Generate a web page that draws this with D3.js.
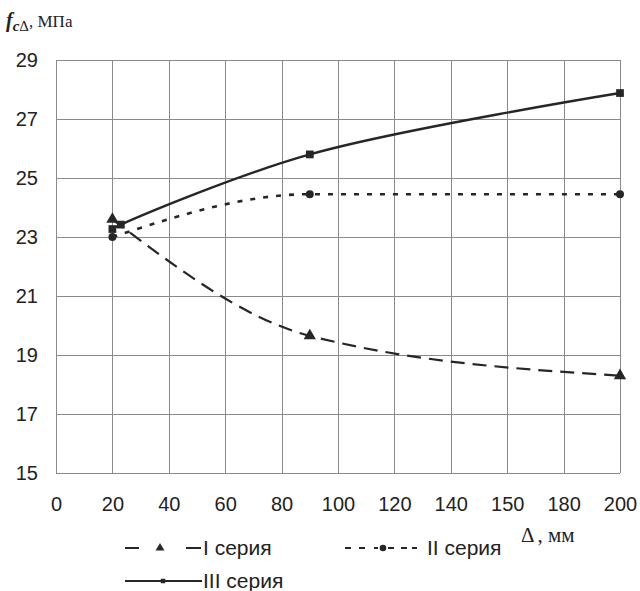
<!DOCTYPE html>
<html>
<head>
<meta charset="utf-8">
<script src="https://d3js.org/d3.v7.min.js"></script>
<style>
    body { margin: 0; background: #fff; }
    svg { display: block; font-family: "Liberation Sans", Arial, sans-serif; }
    .grid line { stroke: #8a8a8a; stroke-width: 1; shape-rendering: crispEdges; }
    .grid path { display: none; }
    .tick text { fill: #222; font-size: 20px; }
    .serif { font-family: "Liberation Serif", "Times New Roman", serif; fill: #222; }
    .legend text { font-size: 21px; fill: #222; }
</style>
</head>
<body>
<svg id="chart" width="640" height="591"></svg>
<script>
    // ticks
    var xTicks = [0, 20, 40, 60, 80, 100, 120, 140, 160, 180, 200];
    var xTickLabels = ["0", "20", "40", "60", "80", "100", "120", "140", "150", "180", "200"];
    var yTicks = [15, 17, 19, 21, 23, 25, 27, 29];

    // series
    var seriesNames = ["I серия", "II серия", "III серия"];
    var series1 = [{x: 20, y: 23.6}, {x: 90, y: 19.65}, {x: 200, y: 18.3}];
    var series2 = [{x: 20, y: 23.0}, {x: 90, y: 24.45}, {x: 200, y: 24.45}];
    var series3 = [{x: 20, y: 23.27}, {x: 23, y: 23.42}, {x: 90, y: 25.8}, {x: 200, y: 27.88}];

    var margin = {top: 60, left: 56},
        width = 564,
        height = 413;

    var svg = d3.select("#chart");
    var g = svg.append("g").attr("transform", "translate(" + margin.left + "," + margin.top + ")");

    var x = d3.scaleLinear().domain([0, 200]).range([0, width]);
    var y = d3.scaleLinear().domain([15, 29]).range([height, 0]);

    // horizontal grid + y labels
    var yAxis = d3.axisLeft(y).tickValues(yTicks).tickSize(-width - 6).tickPadding(13)
        .tickFormat(d3.format("d"));
    g.append("g").attr("class", "grid")
        .attr("transform", "translate(-6,0)")
        .call(yAxis)
        .selectAll("line").attr("x1", 6).attr("x2", width + 6);
    g.selectAll(".grid .tick text").attr("x", -12);

    // vertical grid + x labels
    var xAxis = d3.axisBottom(x).tickValues(xTicks).tickSize(-height).tickPadding(24)
        .tickFormat(function(d, i) { return xTickLabels[i]; });
    g.append("g").attr("class", "grid")
        .attr("transform", "translate(0," + height + ")")
        .call(xAxis);

    // axis titles
    var yt = svg.append("text").attr("class", "serif").attr("x", 6).attr("y", 27).style("font-size", "17px");
    yt.append("tspan").text("f").style("font-weight", "bold").style("font-style", "italic").style("font-size", "20px");
    yt.append("tspan").text("c").attr("dy", 4).style("font-weight", "bold").style("font-style", "italic").style("font-size", "15px");
    yt.append("tspan").text("Δ").style("font-size", "15px");
    yt.append("tspan").text(", МПа").attr("dy", -4);

    var xt = svg.append("text").attr("class", "serif").attr("x", 521).attr("y", 542).style("font-size", "21px");
    xt.append("tspan").text("Δ");
    xt.append("tspan").attr("dx", 3).text(", мм");

    // lines
    var ink = "#262626";
    var styles = [
        {data: series1, dash: "14,8", width: 2.2, marker: "triangle", curve: d3.curveMonotoneX},
        {data: series2, dash: "5,8", width: 2.6, marker: "circle", curve: d3.curveMonotoneX},
        {data: series3, dash: null, width: 2.4, marker: "square", curve: d3.curveCatmullRom.alpha(0.5)}
    ];

    styles.forEach(function(s) {
        var line = d3.line()
            .x(function(d) { return x(d.x); })
            .y(function(d) { return y(d.y); })
            .curve(s.curve);
        g.append("path")
            .datum(s.data)
            .attr("fill", "none")
            .attr("stroke", ink)
            .attr("stroke-width", s.width)
            .attr("stroke-dasharray", s.dash)
            .attr("d", line);
    });

    var symbolType = {triangle: d3.symbolTriangle, circle: d3.symbolCircle, square: d3.symbolSquare};
    var symbolSize = {triangle: 65, circle: 50, square: 60};

    styles.forEach(function(s) {
        g.selectAll(null)
            .data(s.data)
            .enter().append("path")
            .attr("transform", function(d) { return "translate(" + x(d.x) + "," + y(d.y) + ")"; })
            .attr("d", d3.symbol().type(symbolType[s.marker]).size(symbolSize[s.marker]))
            .attr("fill", ink);
    });

    // legend
    var legend = svg.append("g").attr("class", "legend");
    var items = [
        {x: 125, y: 548, mx: 35, tx: 203, s: styles[0], name: seriesNames[0], segs: [[0, 14], [61, 76]]},
        {x: 345, y: 548, mx: 38, tx: 427, s: styles[1], name: seriesNames[1], segs: [[0, 6], [14, 20], [29, 33], [43, 49], [56, 62], [67, 72]]},
        {x: 125, y: 581, mx: 38, tx: 203, s: styles[2], name: seriesNames[2], segs: [[0, 77]]}
    ];
    items.forEach(function(it) {
        legend.selectAll(null)
            .data(it.segs)
            .enter().append("line")
            .attr("x1", function(d) { return it.x + d[0]; })
            .attr("x2", function(d) { return it.x + d[1]; })
            .attr("y1", it.y).attr("y2", it.y)
            .attr("stroke", ink)
            .attr("stroke-width", 2);
        legend.append("path")
            .attr("transform", "translate(" + (it.x + it.mx) + "," + it.y + ")")
            .attr("d", d3.symbol().type(symbolType[it.s.marker]).size(it.s.marker === "square" ? 20 : 34))
            .attr("fill", ink);
        legend.append("text")
            .attr("x", it.tx)
            .attr("y", it.y + 7)
            .text(it.name);
    });
</script>
</body>
</html>
